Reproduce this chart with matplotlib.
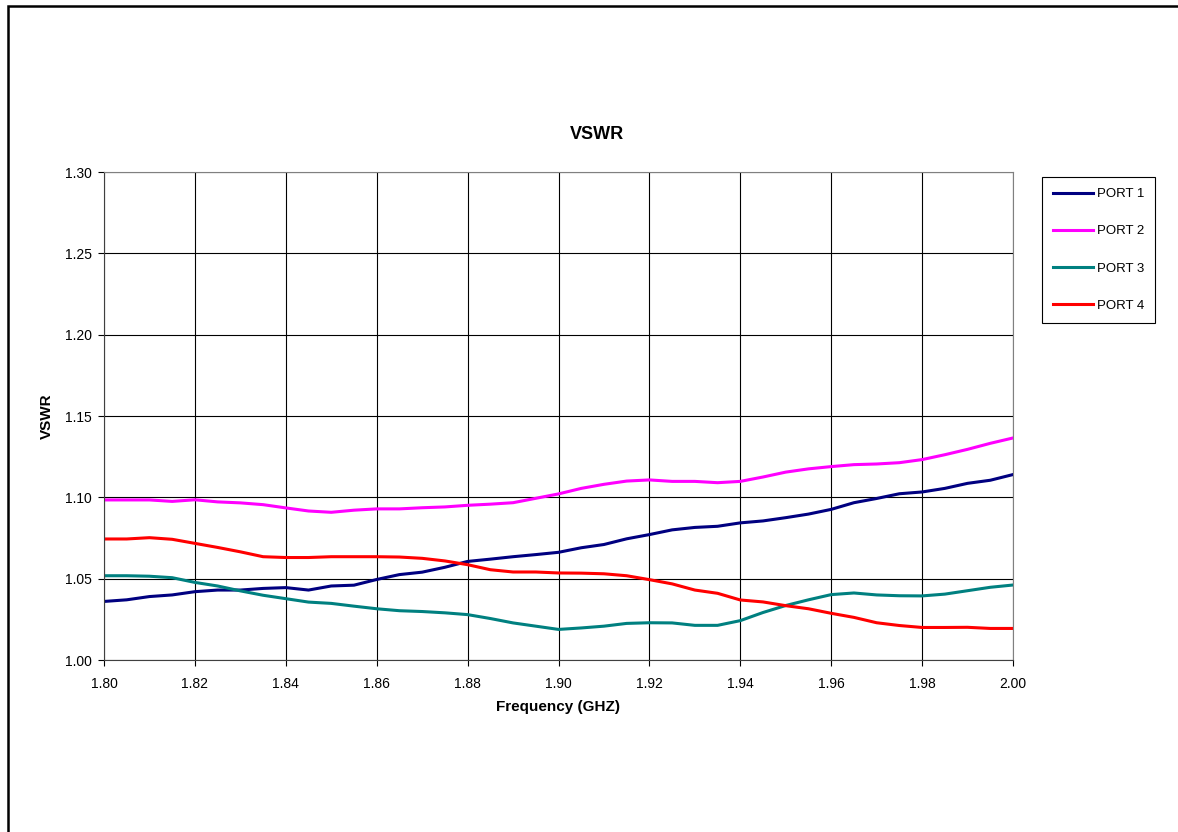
import matplotlib
matplotlib.use("Agg")

import numpy as np
import matplotlib.pyplot as plt
from matplotlib.patches import Rectangle
from matplotlib.ticker import FormatStrFormatter, MultipleLocator

plt.rcParams['font.family'] = ['Liberation Sans', 'DejaVu Sans']

# Frekvenser (GHz) og VSWR per port
freq = [1.800, 1.805, 1.810, 1.815, 1.820, 1.825, 1.830, 1.835, 1.840, 1.845,
        1.850, 1.855, 1.860, 1.865, 1.870, 1.875, 1.880, 1.885, 1.890, 1.895,
        1.900, 1.905, 1.910, 1.915, 1.920, 1.925, 1.930, 1.935, 1.940, 1.945,
        1.950, 1.955, 1.960, 1.965, 1.970, 1.975, 1.980, 1.985, 1.990, 1.995,
        2.000]

port1 = [1.0360, 1.0370, 1.0390, 1.0400, 1.0420, 1.0430, 1.0430, 1.0440, 1.0445, 1.0430,
         1.0455, 1.0460, 1.0495, 1.0525, 1.0540, 1.0570, 1.0606, 1.0620, 1.0635, 1.0648,
         1.0662, 1.0690, 1.0710, 1.0745, 1.0771, 1.0800, 1.0815, 1.0822, 1.0843, 1.0855,
         1.0875, 1.0897, 1.0926, 1.0967, 1.0993, 1.1022, 1.1033, 1.1055, 1.1086, 1.1105,
         1.1140]

port2 = [1.0984, 1.0984, 1.0984, 1.0975, 1.0985, 1.0972, 1.0966, 1.0955, 1.0935, 1.0916,
         1.0908, 1.0921, 1.0929, 1.0929, 1.0936, 1.0941, 1.0951, 1.0958, 1.0967, 1.0994,
         1.1021, 1.1055, 1.1080, 1.1100, 1.1107, 1.1098, 1.1098, 1.1090, 1.1098, 1.1125,
         1.1155, 1.1175, 1.1189, 1.1201, 1.1205, 1.1213, 1.1232, 1.1262, 1.1295, 1.1332,
         1.1365]

port3 = [1.0518, 1.0518, 1.0515, 1.0506, 1.0477, 1.0455, 1.0425, 1.0398, 1.0377, 1.0356,
         1.0348, 1.0331, 1.0315, 1.0303, 1.0298, 1.0290, 1.0279, 1.0255, 1.0228, 1.0208,
         1.0188, 1.0197, 1.0208, 1.0225, 1.0229, 1.0228, 1.0213, 1.0213, 1.0242, 1.0292,
         1.0335, 1.0370, 1.0402, 1.0412, 1.0400, 1.0395, 1.0394, 1.0405, 1.0426, 1.0447,
         1.0461]

port4 = [1.0744, 1.0744, 1.0752, 1.0742, 1.0717, 1.0692, 1.0665, 1.0635, 1.0630, 1.0630,
         1.0635, 1.0635, 1.0635, 1.0633, 1.0625, 1.0609, 1.0586, 1.0555, 1.0541, 1.0541,
         1.0535, 1.0534, 1.0530, 1.0518, 1.0494, 1.0468, 1.0430, 1.0410, 1.0369, 1.0357,
         1.0334, 1.0315, 1.0287, 1.0262, 1.0229, 1.0212, 1.0200, 1.0200, 1.0201, 1.0194,
         1.0194]

labels = ['PORT 1', 'PORT 2', 'PORT 3', 'PORT 4']
colors = ['#000080', '#FF00FF', '#008080', '#FF0000']

fig = plt.figure(figsize=(11.78, 8.32), dpi=100)
ax = fig.add_axes([104 / 1178, 1 - 660 / 832, 909 / 1178, 488 / 832])

for series, lab, col in zip([port1, port2, port3, port4], labels, colors):
    ax.plot(freq, series, color=col, linewidth=2.2, label=lab)

ax.set_xlim(1.80, 2.00)
ax.set_ylim(1.00, 1.30)
ax.xaxis.set_major_locator(MultipleLocator(0.02))
ax.yaxis.set_major_locator(MultipleLocator(0.05))
ax.xaxis.set_major_formatter(FormatStrFormatter('%.2f'))
ax.yaxis.set_major_formatter(FormatStrFormatter('%.2f'))
ax.tick_params(direction='out', length=4, width=0.8, labelsize=10, colors='black')
ax.tick_params(axis='x', pad=8)
ax.tick_params(axis='y', pad=5)
ax.grid(True, color='black', linewidth=0.8)
ax.set_axisbelow(True)
for side in ['top', 'right']:
    ax.spines[side].set_color('#808080')
for side in ['left', 'bottom']:
    ax.spines[side].set_color('#404040')

# Tittel sentrert over hele diagramområdet (Excel-stil)
ax.set_title('VSWR', fontsize=13, fontweight='bold', pad=0,
             x=(597 - 104) / 909, y=(660 - 139) / 488)
ax.set_xlabel('Frequency (GHZ)', fontsize=11, fontweight='bold')
ax.xaxis.set_label_coords((558 - 104) / 909, (660 - 700) / 488)
ax.set_ylabel('VSWR', fontsize=11, fontweight='bold')
ax.yaxis.set_label_coords((54 - 104) / 909, 0.5)

leg = fig.legend(loc='upper left', bbox_to_anchor=(1042 / 1178, 1 - 177 / 832),
                 fontsize=9.5, frameon=True, fancybox=False, framealpha=1,
                 edgecolor='black', handlelength=3.0, handletextpad=0.3,
                 labelspacing=1.88, borderpad=0.85, borderaxespad=0)
leg.get_frame().set_linewidth(0.8)

# Ramme rundt figuren (høyre og nedre kant er utenfor bildet)
fig.patches.append(Rectangle((8 / 1178, -0.05), 1.1, 1.05 - 6 / 832,
                             transform=fig.transFigure, fill=False,
                             edgecolor='black', linewidth=1.8))

fig.savefig('out.png', dpi=100, facecolor='white')
